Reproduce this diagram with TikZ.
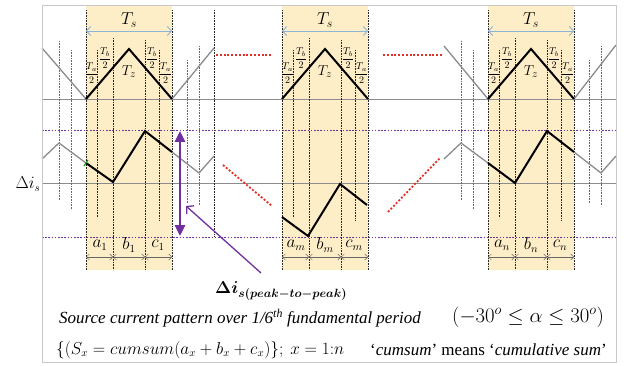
\documentclass[tikz,border=0pt]{standalone}
\usepackage{amsmath,bm}
\usepackage{fontspec}
\setmainfont{Liberation Serif}
\usetikzlibrary{arrows.meta}
\definecolor{colfill}{RGB}{253,238,199}
\definecolor{purp}{RGB}{112,48,160}
\definecolor{redd}{RGB}{222,50,40}
\definecolor{tsblue}{RGB}{140,180,215}
\definecolor{wgrey}{RGB}{140,140,140}
\definecolor{framec}{RGB}{200,200,200}
\begin{document}
\begin{tikzpicture}[x=1pt,y=-1pt,
  vdot/.style={black!85,line width=0.6pt,dash pattern=on 0.8pt off 0.8pt},
  odot/.style={black!60,line width=1.0pt,dash pattern=on 0.8pt off 0.8pt},
  wave/.style={black,line width=2pt,line join=miter},
  gwave/.style={wgrey,line width=1.3pt},
  base/.style={black!45,line width=0.9pt},
  pdot/.style={purp,line width=0.9pt,dash pattern=on 1.6pt off 1.6pt},
  rdot/.style={redd,line width=1.8pt,dash pattern=on 2pt off 1.8pt},
  dimln/.style={black!60,line width=0.5pt,{Straight Barb[length=3pt,width=6pt]}-{Straight Barb[length=3pt,width=6pt]}},
  tsarr/.style={tsblue,line width=0.9pt,{Straight Barb[length=4pt,width=9pt]}-{Straight Barb[length=4pt,width=9pt]}},
  lbl/.style={inner sep=0pt},
]
\useasboundingbox (0,0) rectangle (626,366);
\fill[white] (0,0) rectangle (626,366);
% columns
\foreach \o in {86,282,488} { \fill[colfill] (\o,5) rectangle (\o+86,270); }
% base lines
\draw[base] (42,99) -- (616,99);
\draw[base] (42,183) -- (616,183);
% purple dotted levels
\draw[pdot] (42,130) -- (616,130);
\draw[pdot] (42,237) -- (616,237);
% inner dotted verticals
\foreach \o in {86,282,488} {
  \foreach \r/\ya/\yb in {0/10/270, 11/50/218, 27/38/270, 59/40/270, 73/50/220, 86/10/270} {
    \draw[vdot] (\o+\r,\ya) -- (\o+\r,\yb);
  }
}
% outer dotted verticals (columns 1 and 3)
\foreach \o in {86,488} {
  \foreach \r/\ya/\yb in {-27/41/200, -15/50/210, 101/60/203, 113/46/205} {
    \draw[odot] (\o+\r,\ya) -- (\o+\r,\yb);
  }
}
\draw[vdot] (214,10) -- (214,237);
% grey outer waveforms
\draw[gwave] (42,48) -- (86,99);
\draw[gwave] (172,99) -- (214,48);
\draw[gwave] (42,159) -- (59,143) -- (86,163);
\draw[gwave] (172,152) -- (199,173) -- (214,156);
\draw[gwave] (444,46) -- (488,99);
\draw[gwave] (574,99) -- (616,45);
\draw[gwave] (444,159) -- (461,143) -- (488,163);
\draw[gwave] (574,152) -- (601,173) -- (616,156);
% black waveforms
\foreach \o in {86,282,488} { \draw[wave] (\o,99) -- (\o+43,49) -- (\o+86,99); }
\draw[wave] (86,163) -- (113,182) -- (145,131) -- (172,152);
\draw[wave] (282,217) -- (308,236) -- (340,184) -- (367,205);
\draw[wave] (488,163) -- (515,183) -- (547,131) -- (574,152);
\draw[green!60!black,line width=1pt] (84,166) -- (88,160);
% red dotted continuation marks
\draw[rdot] (216,55) -- (271,55);
\draw[rdot] (383,55) -- (442,55);
\draw[rdot] (223,165) -- (272,206);
\draw[rdot] (388,212) -- (440,158);
% labels per column
\foreach \o/\s in {86/1,282/m,488/n} {
  \node[lbl] (ts\s) at (\o+43,20) {\fontsize{17}{17}\selectfont$T_s$};
  \draw[tsarr] (\o,31) -- (\o+86,31);
  \node[lbl] (tal\s) at (\o+5.5,73) {\fontsize{10}{10}\selectfont$\dfrac{T_a}{2}$};
  \node[lbl] (tbl\s) at (\o+19,58) {\fontsize{10}{10}\selectfont$\dfrac{T_b}{2}$};
  \node[lbl] (tz\s) at (\o+43,72) {\fontsize{15}{15}\selectfont$T_z$};
  \node[lbl] (tbr\s) at (\o+66,58) {\fontsize{10}{10}\selectfont$\dfrac{T_b}{2}$};
  \node[lbl] (tar\s) at (\o+79.5,73) {\fontsize{10}{10}\selectfont$\dfrac{T_a}{2}$};
  \draw[dimln] (\o,257) -- (\o+27,257);
  \draw[dimln] (\o+27,257) -- (\o+59,257);
  \draw[dimln] (\o+59,257) -- (\o+86,257);
  \node[lbl] (a\s) at (\o+14,245) {\fontsize{16}{16}\selectfont$a_\s$};
  \node[lbl] (b\s) at (\o+43,245) {\fontsize{16}{16}\selectfont$b_\s$};
  \node[lbl] (c\s) at (\o+72,245) {\fontsize{16}{16}\selectfont$c_\s$};
}
% delta i_s
\node[lbl] (dis) at (28,184) {\fontsize{16}{16}\selectfont$\Delta i_s$};
% purple peak-to-peak arrow
\coordinate (ptop) at (180,131);
\coordinate (pbot) at (180,236);
\draw[purp,line width=2.6pt,{Triangle[length=11pt,width=10pt]}-{Triangle[length=11pt,width=10pt]}] (ptop) -- (pbot);
\node[lbl,anchor=west] (dpp) at (215,291) {\fontsize{17}{17}\selectfont$\bm{\Delta i_{s(peak-to-peak)}}$};
\coordinate (dtail) at (261,273);
\coordinate (dhead) at (186,206);
\draw[purp,line width=1.3pt,-{Straight Barb[length=5pt,width=11pt]}] (dtail) -- (dhead);
% bottom texts
\node[lbl,anchor=west] (src) at (59,318) {\fontsize{17}{17}\selectfont\itshape Source current pattern over 1/6\textsuperscript{th} fundamental period};
\node[lbl,anchor=west] (rng) at (452,317) {\fontsize{20.5}{20.5}\selectfont$(-30^o \le \alpha \le 30^o)$};
\node[lbl,anchor=west] (cs) at (56,350) {\fontsize{16.3}{16.3}\selectfont$\{(S_x = cumsum(a_x + b_x + c_x)\};\ x = 1{:}n$};
\node[lbl,anchor=west] (mn) at (370,350) {\fontsize{17}{17}\selectfont`\textit{cumsum}' means `\textit{cumulative sum}'};
% frame
\draw[framec,line width=0.8pt] (42,5) rectangle (616,362);
\end{tikzpicture}
\end{document}
